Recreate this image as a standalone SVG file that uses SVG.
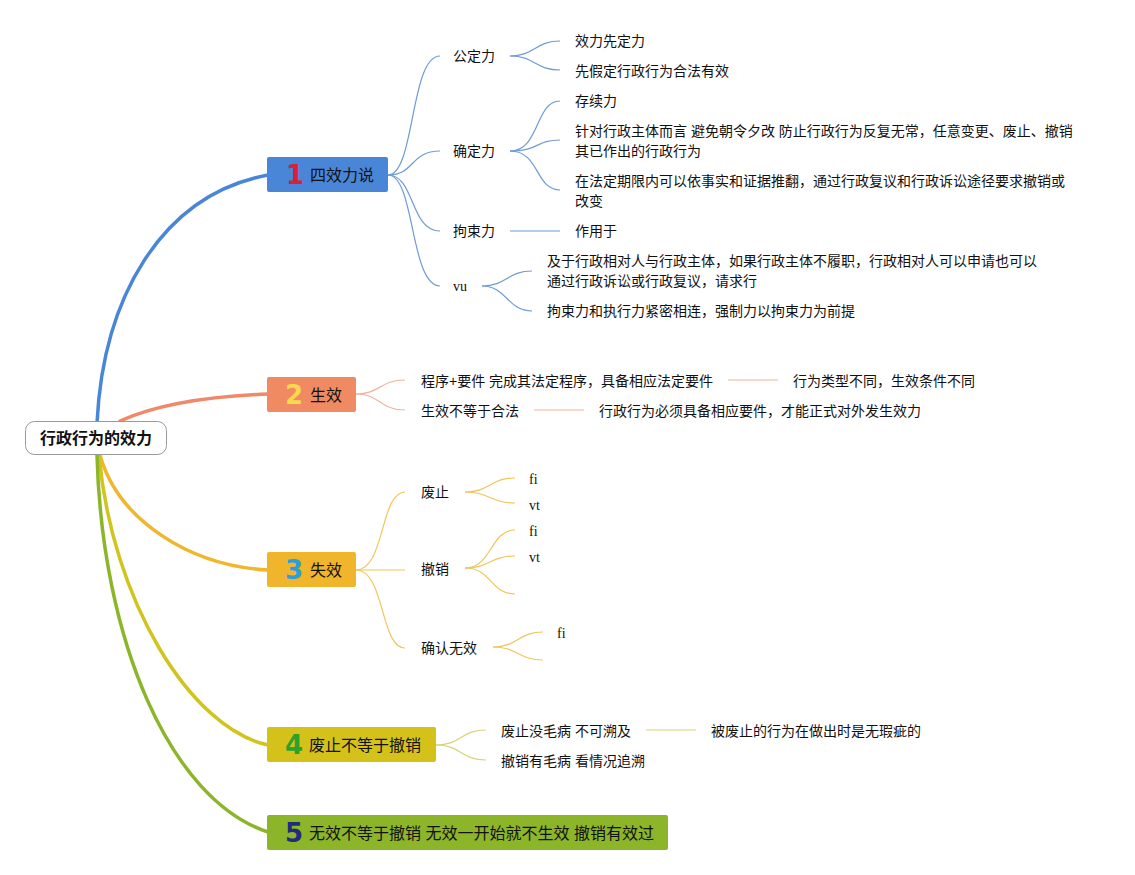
<svg xmlns="http://www.w3.org/2000/svg" width="1135" height="875" viewBox="0 0 1135 875">
<style>
text{font-family:"Liberation Sans","Noto Sans CJK SC",sans-serif;fill:#111;}
.t{font-size:14px;dominant-baseline:central;}
.s{font-family:"Liberation Serif","Noto Serif",serif;font-size:14px;dominant-baseline:central;}
.n{font-size:16px;dominant-baseline:central;}
.num{font-family:"DejaVu Sans","Liberation Sans",sans-serif;font-size:26px;font-weight:bold;dominant-baseline:central;}
.main{fill:none;stroke-width:3.5;stroke-linecap:round;}
.sub{fill:none;stroke-width:1.2;}
.b{stroke:#6F9BD6;}
.o{stroke:#F0B3A0;}
.y{stroke:#F0C65A;}
.g{stroke:#DCD27A;}
</style>
<rect width="1135" height="875" fill="#fff"/>
<g id="connectors">
<path class="main" stroke="#4A86D8" d="M97,423 C103,300 160,195 268,175"/>
<path class="main" stroke="#F0896A" d="M120,421 C160,403 215,396 268,394"/>
<path class="main" stroke="#F0B62E" d="M100,455 C118,520 190,566 268,570"/>
<path class="main" stroke="#D2C41E" d="M99,455 C112,600 190,728 268,745"/>
<path class="main" stroke="#8DB52A" d="M97,455 C102,640 170,800 268,832"/>
<path class="sub b" d="M388,175 C415,175 410,56 440,56"/>
<path class="sub b" d="M388,175 C415,175 410,151 440,151"/>
<path class="sub b" d="M388,175 C415,175 410,231 440,231"/>
<path class="sub b" d="M388,175 C415,175 410,286 440,286"/>
<path class="sub b" d="M510,56 C535,56 535,41 560,41"/>
<path class="sub b" d="M510,56 C535,56 535,70 560,70"/>
<path class="sub b" d="M510,151 C540,151 535,101 560,101"/>
<path class="sub b" d="M510,151 C540,151 535,140 560,140"/>
<path class="sub b" d="M510,151 C540,151 535,190 560,190"/>
<path class="sub b" d="M510,231 L560,231"/>
<path class="sub b" d="M482,286 C507,286 507,271 532,271"/>
<path class="sub b" d="M482,286 C507,286 507,311 532,311"/>
<path class="sub o" d="M356,394 C380,394 380,380 405,380"/>
<path class="sub o" d="M356,394 C380,394 380,410 405,410"/>
<path class="sub o" stroke-width="2" d="M728,380 L778,380"/>
<path class="sub o" stroke-width="2" d="M534,410 L584,410"/>
<path class="sub y" d="M356,570 C385,570 380,492 405,492"/>
<path class="sub y" d="M356,570 L405,570"/>
<path class="sub y" d="M356,570 C385,570 380,648 405,648"/>
<path class="sub y" stroke-width="2" d="M465,492 C490,492 490,478 515,478"/>
<path class="sub y" d="M465,492 C490,492 490,503 515,503"/>
<path class="sub y" stroke-width="2" d="M465,568 C492,568 490,530 515,530"/>
<path class="sub y" d="M465,568 C490,568 490,556 515,556"/>
<path class="sub y" d="M465,568 C492,568 490,594 515,594"/>
<path class="sub y" stroke-width="2" d="M493,647 C518,647 518,632 543,632"/>
<path class="sub y" d="M493,647 C518,647 518,660 543,660"/>
<path class="sub g" d="M436,745 C462,745 460,730 486,730"/>
<path class="sub g" d="M436,745 C462,745 460,760 486,760"/>
<path class="sub g" stroke-width="1.5" d="M646,730 L696,730"/>
</g>
<g id="root">
<rect x="25.5" y="421.5" width="141" height="33" rx="9" fill="#fff" stroke="#999"/>
<text x="96" y="438" class="n" font-weight="bold" text-anchor="middle">行政行为的效力</text>
</g>
<g id="node1">
<rect x="267" y="157" width="121" height="35" rx="2" fill="#4A86D8"/>
<text x="286" y="175" class="num" style="fill:#D6213B">1</text>
<text x="310" y="175" class="n">四效力说</text>
</g>
<g id="node2">
<rect x="267" y="377" width="89" height="35" rx="2" fill="#F08A62"/>
<text x="285" y="395" class="num" style="fill:#F7DA4C">2</text>
<text x="310" y="395" class="n">生效</text>
</g>
<g id="node3">
<rect x="267" y="552" width="89" height="35" rx="2" fill="#F1B52C"/>
<text x="285" y="570" class="num" style="fill:#2E9DDB">3</text>
<text x="310" y="570" class="n">失效</text>
</g>
<g id="node4">
<rect x="267" y="727" width="169" height="35" rx="2" fill="#D4C21A"/>
<text x="285" y="745" class="num" style="fill:#2BA32B">4</text>
<text x="309" y="745" class="n">废止不等于撤销</text>
</g>
<g id="node5">
<rect x="267" y="815" width="401" height="35" rx="2" fill="#8DB52A"/>
<text x="285" y="833" class="num" style="fill:#1F2D7A">5</text>
<text x="309" y="833" class="n">无效不等于撤销 无效一开始就不生效 撤销有效过</text>
</g>
<g id="n1-children">
<text x="453" y="56" class="t">公定力</text>
<text x="575" y="41" class="t">效力先定力</text>
<text x="575" y="71" class="t">先假定行政行为合法有效</text>
<text x="453" y="151" class="t">确定力</text>
<text x="575" y="101" class="t">存续力</text>
<text x="575" y="131" class="t">针对行政主体而言 避免朝令夕改 防止行政行为反复无常，任意变更、废止、撤销</text>
<text x="575" y="151" class="t">其已作出的行政行为</text>
<text x="575" y="181" class="t">在法定期限内可以依事实和证据推翻，通过行政复议和行政诉讼途径要求撤销或</text>
<text x="575" y="201" class="t">改变</text>
<text x="453" y="231" class="t">拘束力</text>
<text x="575" y="231" class="t">作用于</text>
<text x="453" y="286" class="s">vu</text>
<text x="547" y="261" class="t">及于行政相对人与行政主体，如果行政主体不履职，行政相对人可以申请也可以</text>
<text x="547" y="281" class="t">通过行政诉讼或行政复议，请求行</text>
<text x="547" y="311" class="t">拘束力和执行力紧密相连，强制力以拘束力为前提</text>
</g>
<g id="n2-children">
<text x="421" y="381" class="t">程序+要件 完成其法定程序，具备相应法定要件</text>
<text x="793" y="381" class="t">行为类型不同，生效条件不同</text>
<text x="421" y="411" class="t">生效不等于合法</text>
<text x="599" y="411" class="t">行政行为必须具备相应要件，才能正式对外发生效力</text>
</g>
<g id="n3-children">
<text x="421" y="492" class="t">废止</text>
<text x="529" y="479" class="s">fi</text>
<text x="529" y="505" class="s">vt</text>
<text x="421" y="569" class="t">撤销</text>
<text x="529" y="531" class="s">fi</text>
<text x="529" y="557" class="s">vt</text>
<text x="421" y="648" class="t">确认无效</text>
<text x="557" y="633" class="s">fi</text>
</g>
<g id="n4-children">
<text x="501" y="731" class="t">废止没毛病 不可溯及</text>
<text x="711" y="731" class="t">被废止的行为在做出时是无瑕疵的</text>
<text x="501" y="761" class="t">撤销有毛病 看情况追溯</text>
</g>
</svg>
